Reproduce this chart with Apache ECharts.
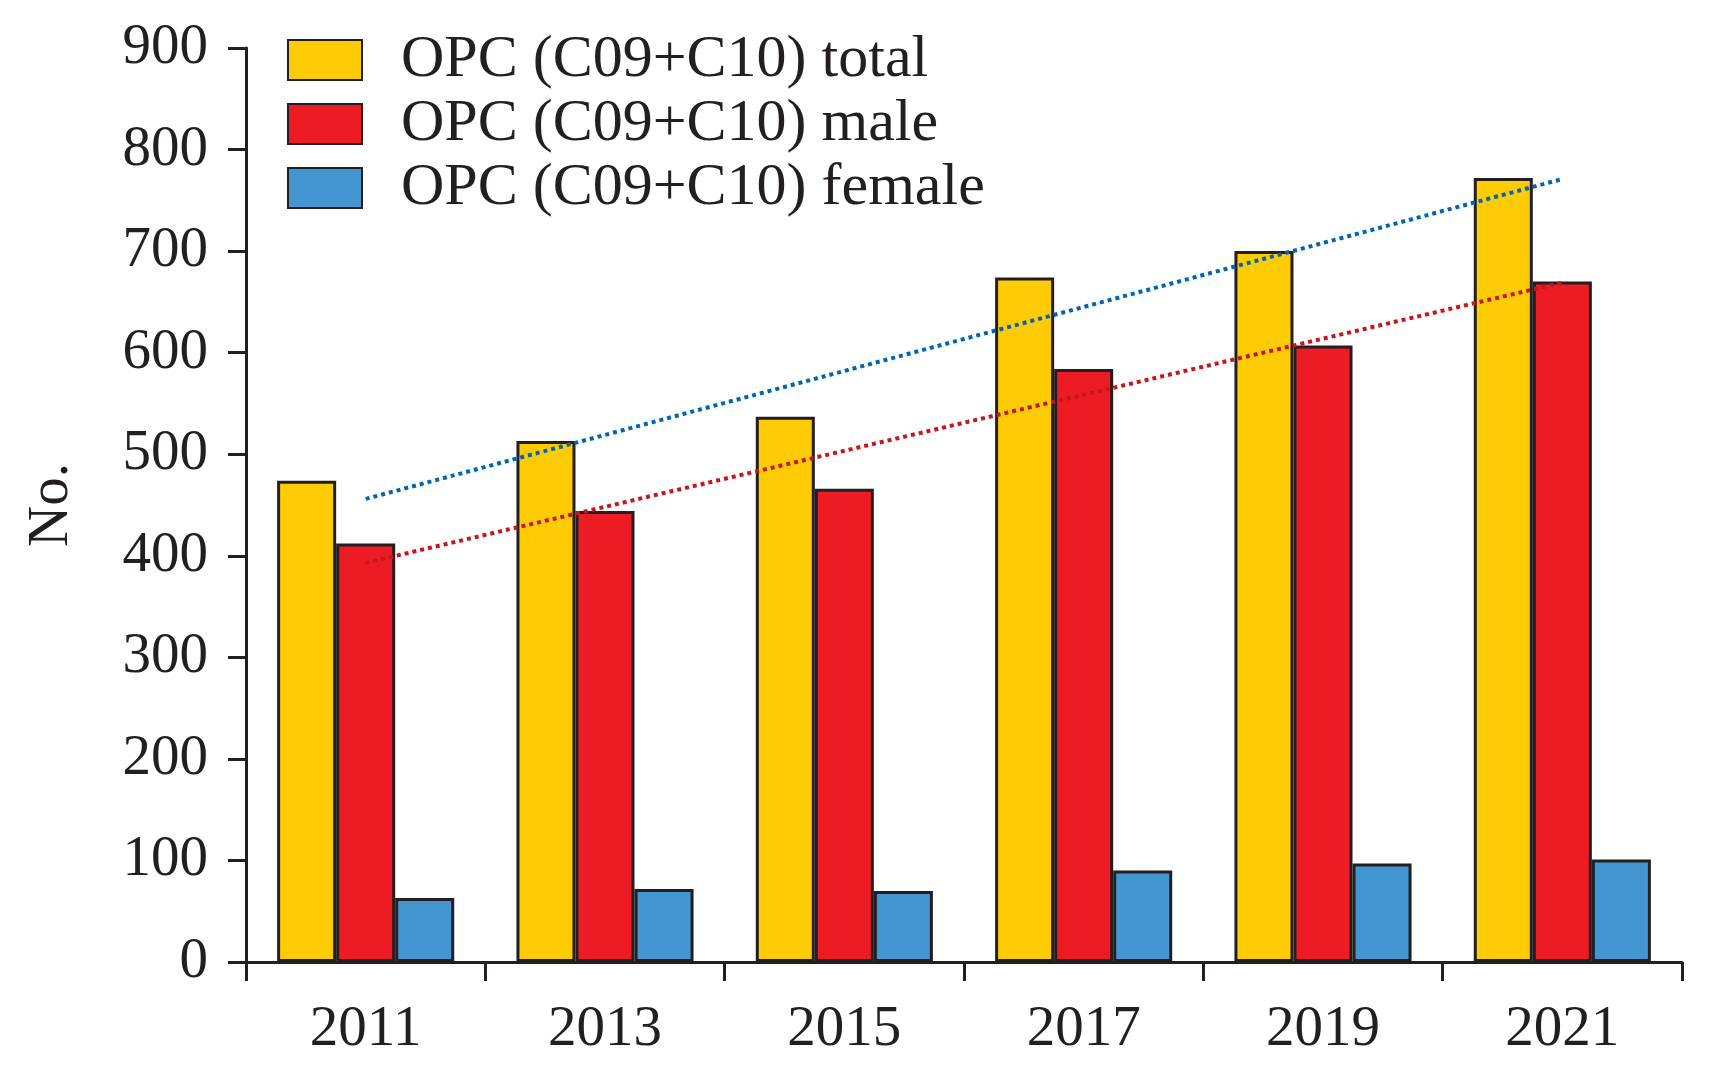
<!DOCTYPE html>
<html>
<head>
<meta charset="utf-8">
<script src="https://cdn.jsdelivr.net/npm/echarts@6/dist/echarts.min.js"></script>
<style>html,body{margin:0;padding:0;background:#fff;}#c{width:1715px;height:1073px;}</style>
</head>
<body>
<div id="c"></div>
<script>
const categories = ['2011', '2013', '2015', '2017', '2019', '2021'];
const totalValues = [474, 513, 537, 674, 700, 772];
const maleValues = [412, 444, 466, 584, 607, 670];
const femaleValues = [63, 72, 70, 90, 97, 101];
// dotted trend lines, read at the first and last category
const trendTotal = [456, null, null, null, null, 771];
const trendMale = [393, null, null, null, null, 669];
const seriesNames = ['OPC (C09+C10) total', 'OPC (C09+C10) male', 'OPC (C09+C10) female'];

const ink = '#231F20';
const font = '"Liberation Serif", serif';
const chart = echarts.init(document.getElementById('c'));
const barStyle = (color) => ({ color: color, borderColor: ink, borderWidth: 3 });

chart.setOption({
  animation: false,
  backgroundColor: '#ffffff',
  grid: { left: 246, right: 33, top: 48, bottom: 111, containLabel: false },
  legend: {
    show: true,
    left: 282, top: 25,
    orient: 'vertical',
    itemWidth: 74, itemHeight: 40, itemGap: 4,
    icon: 'rect',
    data: seriesNames,
    textStyle: { fontFamily: font, fontSize: 60, color: ink, padding: [8, 0, 0, 34] }
  },
  xAxis: {
    type: 'category',
    data: categories,
    boundaryGap: true,
    axisLine: { lineStyle: { color: ink, width: 3 } },
    axisTick: { show: true, length: 19, lineStyle: { color: ink, width: 3 } },
    axisLabel: { fontFamily: font, fontSize: 57, color: ink, margin: 40 }
  },
  yAxis: {
    type: 'value',
    min: 0, max: 900, interval: 100,
    name: 'No.',
    nameLocation: 'middle',
    nameGap: 165,
    nameTextStyle: { fontFamily: font, fontSize: 57, color: ink },
    splitLine: { show: false },
    axisLine: { show: true, lineStyle: { color: ink, width: 3 } },
    axisTick: { show: true, length: 18, lineStyle: { color: ink, width: 3 } },
    axisLabel: { fontFamily: font, fontSize: 57, color: ink, margin: 38 }
  },
  series: [
    { name: seriesNames[0], type: 'bar', data: totalValues, barGap: '0%', barCategoryGap: '26%', itemStyle: barStyle('#FFCB05') },
    { name: seriesNames[1], type: 'bar', data: maleValues, barGap: '0%', barCategoryGap: '26%', itemStyle: barStyle('#ED1C24') },
    { name: seriesNames[2], type: 'bar', data: femaleValues, barGap: '0%', barCategoryGap: '26%', itemStyle: barStyle('#4496D2') },
    { name: 'trend total', type: 'line', data: trendTotal, connectNulls: true, symbol: 'none', z: 5,
      lineStyle: { color: '#0065B3', width: 4, type: [4, 4] } },
    { name: 'trend male', type: 'line', data: trendMale, connectNulls: true, symbol: 'none', z: 5,
      lineStyle: { color: '#C8161E', width: 4, type: [4, 4] } }
  ]
});
</script>
</body>
</html>
